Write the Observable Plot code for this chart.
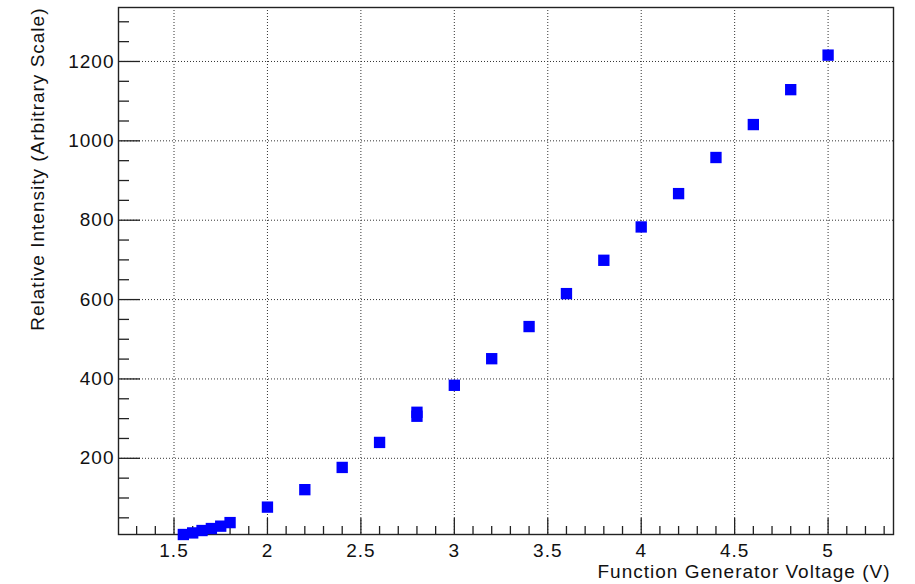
<!DOCTYPE html>
<html>
<head>
<meta charset="utf-8">
<script src="https://cdn.jsdelivr.net/npm/d3@7"></script>
<script src="https://cdn.jsdelivr.net/npm/@observablehq/plot@0.6"></script>
<style>
  html, body { margin: 0; padding: 0; background: #fff; }
  #chart svg text { letter-spacing: 1px; }
</style>
</head>
<body>
<div id="chart"></div>
<script>
// Measured intensity versus function generator voltage
const voltage   = [1.55, 1.6, 1.65, 1.7, 1.75, 1.8, 2.0, 2.2, 2.4, 2.6, 2.8, 2.8, 3.0, 3.2, 3.4, 3.6, 3.8, 4.0, 4.2, 4.4, 4.6, 4.8, 5.0];
const intensity = [8, 12, 18, 23, 29, 38, 77, 121, 177, 240, 316, 306, 384, 451, 532, 615, 699, 783, 867, 958, 1041, 1129, 1216];

// Axis ticks and titles
const xMajorTicks = [1.5, 2, 2.5, 3, 3.5, 4, 4.5, 5];
const yMajorTicks = [200, 400, 600, 800, 1000, 1200];
const xMinorTicks = d3.range(13, 54).map(d => d / 10).filter(d => !xMajorTicks.includes(d));
const yMinorTicks = d3.range(50, 1350, 50).filter(d => !yMajorTicks.includes(d));
const xTitle = "Function Generator Voltage (V)";
const yTitle = "Relative Intensity (Arbitrary Scale)";

const points = voltage.map((v, i) => ({voltage: v, intensity: intensity[i]}));

const W = 915, H = 584;
const mL = 118, mR = 22, mT = 7, mB = 50;
const innerW = W - mL - mR, innerH = H - mT - mB;
const ink = "#222";
const fs = 19;

const chart = Plot.plot({
  width: W,
  height: H,
  marginLeft: mL,
  marginRight: mR,
  marginTop: mT,
  marginBottom: mB,
  style: {fontFamily: "'Liberation Sans', Arial, sans-serif", fontSize: fs + "px", color: "#111", background: "#fff"},
  x: {domain: [1.203, 5.35]},
  y: {domain: [8, 1336]},
  marks: [
    // dotted grid at the major ticks
    Plot.gridX(xMajorTicks, {stroke: "#333", strokeOpacity: 1, strokeWidth: 1, strokeDasharray: "1,2"}),
    Plot.gridY(yMajorTicks, {stroke: "#333", strokeOpacity: 1, strokeWidth: 1, strokeDasharray: "1,2"}),
    // inward tick marks on the bottom and left edges
    Plot.tickX(xMinorTicks, {x: d => d, insetTop: innerH - 8, stroke: ink, strokeWidth: 1.3}),
    Plot.tickX(xMajorTicks, {x: d => d, insetTop: innerH - 16, stroke: ink, strokeWidth: 1.3}),
    Plot.tickY(yMinorTicks, {y: d => d, insetRight: innerW - 11, stroke: ink, strokeWidth: 1.3}),
    Plot.tickY(yMajorTicks, {y: d => d, insetRight: innerW - 22, stroke: ink, strokeWidth: 1.3}),
    Plot.frame({stroke: ink, strokeWidth: 1.4}),
    // tick labels
    Plot.axisX(xMajorTicks, {tickSize: 0, tickPadding: 9, tickFormat: d => String(d), label: null, fontSize: fs}),
    Plot.axisY(yMajorTicks, {tickSize: 0, tickPadding: 4, tickFormat: d => String(d), label: null, fontSize: fs}),
    // data points
    Plot.dot(points, {x: "voltage", y: "intensity", symbol: "square", r: 6.4, fill: "#0000ff", stroke: "none"}),
    // axis titles
    Plot.text([xTitle], {text: d => d, frameAnchor: "bottom-right", textAnchor: "end", lineAnchor: "bottom", dx: -3, dy: 43, fontSize: fs, fill: "#111"}),
    Plot.text([yTitle], {text: d => d, frameAnchor: "top-left", rotate: -90, textAnchor: "end", lineAnchor: "bottom", dx: -75, fontSize: fs, fill: "#111"})
  ]
});

document.getElementById("chart").append(chart);
</script>
</body>
</html>
